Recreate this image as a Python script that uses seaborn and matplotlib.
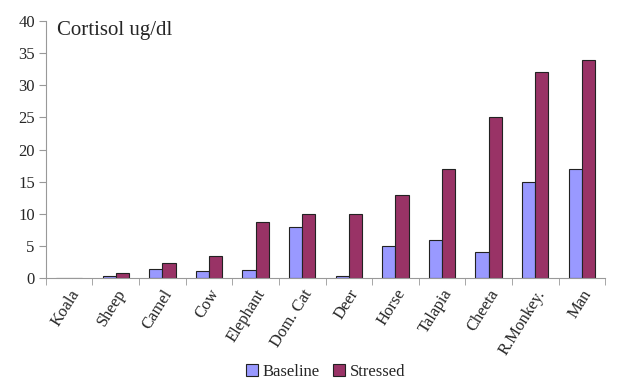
import numpy as np
import pandas as pd
import matplotlib
matplotlib.use("Agg")
import matplotlib.pyplot as plt
import seaborn as sns

# 数据
animals = ['Koala', 'Sheep', 'Camel', 'Cow', 'Elephant', 'Dom. Cat', 'Deer',
           'Horse', 'Talapia', 'Cheeta', 'R.Monkey.', 'Man']
baseline = [0, 0.3, 1.4, 1.1, 1.2, 8, 0.3, 5, 6, 4, 15, 17]
stressed = [0, 0.8, 2.4, 3.5, 8.7, 10, 10, 13, 17, 25, 32, 34]

df = pd.DataFrame({'animal': animals * 2,
                   'value': baseline + stressed,
                   'group': ['Baseline'] * len(animals) + ['Stressed'] * len(animals)})

sns.set_style('white')
plt.rcParams['font.family'] = ['Liberation Serif', 'DejaVu Serif']

fig = plt.figure(figsize=(6.2, 3.83), dpi=100)
ax = fig.add_axes([0.074, 0.274, 0.902, 0.671])

sns.barplot(data=df, x='animal', y='value', hue='group', order=animals,
            palette={'Baseline': '#9999FF', 'Stressed': '#993366'},
            width=0.57, edgecolor='#222222', linewidth=0.8, saturation=1, ax=ax)

ax.set_xlim(-0.5, len(animals) - 0.5)
ax.set_ylim(0, 40)
ax.set_yticks(range(0, 41, 5))
ax.set_xlabel('')
ax.set_ylabel('')

# 横轴刻度在类别之间
ax.set_xticks(np.arange(len(animals)))
ax.set_xticklabels(animals, rotation=58, ha='right', rotation_mode='anchor', fontsize=12)
ax.set_xticks(np.arange(-0.5, len(animals)), minor=True)
ax.tick_params(axis='x', which='major', length=0, pad=6)
ax.tick_params(axis='x', which='minor', length=5, color='#999999', direction='out')
ax.tick_params(axis='y', length=5, color='#999999', direction='out', labelsize=12, pad=3)
ax.tick_params(axis='both', bottom=True, left=True)
ax.xaxis.set_tick_params(which='minor', bottom=True)

for s in ['top', 'right']:
    ax.spines[s].set_visible(False)
for s in ['left', 'bottom']:
    ax.spines[s].set_color('#999999')
    ax.spines[s].set_linewidth(0.8)

ax.text(0.02, 1.0, 'Cortisol ug/dl', transform=ax.transAxes, fontsize=15,
        ha='left', va='top')

ax.legend(loc='center', bbox_to_anchor=(0.5, -0.366), ncol=2, frameon=False,
          fontsize=12, handlelength=0.7, handleheight=0.7, handletextpad=0.3,
          columnspacing=0.8, bbox_transform=ax.transAxes)

fig.savefig('out.png', dpi=100)
